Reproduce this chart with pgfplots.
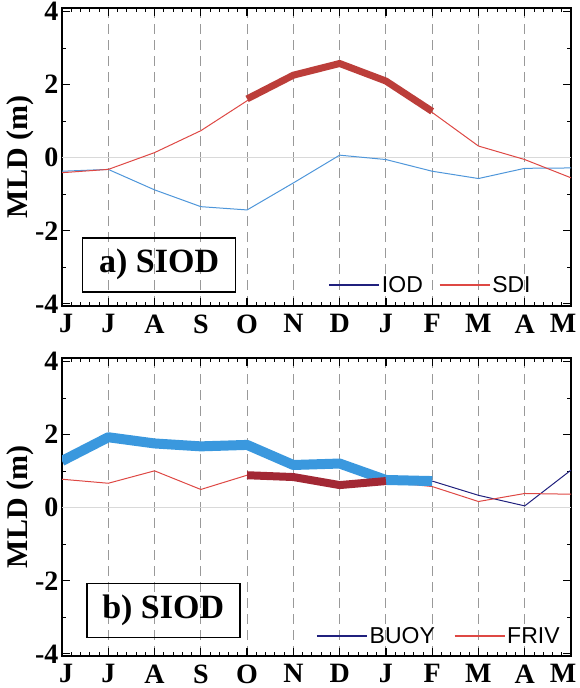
\documentclass[border=0pt]{standalone}
\usepackage{pgfplots}
\pgfplotsset{compat=1.18}
\usepackage{fontspec}
\setmainfont{Liberation Serif}
\newfontfamily\legfont{Liberation Sans}

\definecolor{sdired}{RGB}{222,72,68}
\definecolor{thickred}{RGB}{188,62,58}
\definecolor{darkred}{RGB}{162,40,52}
\definecolor{iodblue}{RGB}{78,150,218}
\definecolor{buoyblue}{RGB}{58,152,222}
\definecolor{navy}{RGB}{32,32,125}

\pgfplotsset{
  siod/.style={
    scale only axis,
    width=509pt, height=298pt,
    xmin=0, xmax=11,
    ymin=-4.06, ymax=4.1,
    xtick={0,...,11},
    xticklabels={\hspace*{8pt}J,J,A,S,O,N,D,J,F,M,A,M\hspace*{16pt}},
    ytick={-4,-2,0,2,4},
    yticklabels={-4,-2,0,2,\raisebox{-3pt}{4}},
    minor x tick num=4,
    minor y tick num=1,
    tick align=inside,
    major tick length=8pt,
    minor tick length=4pt,
    tick style={black, line width=1.2pt},
    minor tick style={black, line width=0.8pt},
    axis line style={line width=1.6pt},
    xmajorgrids,
    major grid style={gray!80, line width=0.9pt, dash pattern=on 10pt off 6pt},
    tick label style={font=\fontsize{28}{28}\selectfont\bfseries},
    xticklabel style={yshift=-5pt},
    ylabel={MLD (m)},
    ylabel style={font=\fontsize{30}{30}\selectfont\bfseries, yshift=-6pt},
    legend columns=2,
    legend style={draw=none, fill=none, font=\legfont\fontsize{23}{23}\selectfont,
      anchor=east, inner sep=0pt,
      /tikz/every even column/.append style={column sep=14pt}},
    legend image code/.code={\draw[#1] (0pt,0pt) -- (50pt,0pt);},
    every axis plot/.append style={line join=round},
  }
}

\begin{document}
\begin{tikzpicture}
\path[use as bounding box] (0pt,0pt) rectangle (579pt,688pt);

% panel a
\begin{axis}[siod, at={(62pt,382pt)}, anchor=south west,
  legend style={at={(rel axis cs:0.925,0.07)}}]
\addlegendimage{navy, line width=1.4pt}
\addlegendentry{IOD}
\addlegendimage{sdired, line width=1.4pt}
\addlegendentry{SDI}
\addplot[gray!30, line width=0.9pt, forget plot] coordinates {(0,0) (11,0)};
\addplot[iodblue, line width=1pt, forget plot] coordinates {
  (0,-0.37) (1,-0.32) (2,-0.88) (3,-1.34) (4,-1.43) (5,-0.69)
  (6,0.07) (7,-0.05) (8,-0.37) (9,-0.57) (10,-0.29) (11,-0.28)};
\addplot[sdired, line width=1pt, forget plot] coordinates {
  (0,-0.41) (1,-0.32) (2,0.14) (3,0.74) (4,1.56) (5,2.21)
  (6,2.53) (7,2.07) (8,1.24) (9,0.32) (10,-0.05) (11,-0.55)};
\addplot[thickred, line width=7pt, forget plot] coordinates {
  (4,1.61) (5,2.26) (6,2.58) (7,2.1) (8,1.27)};
\node[draw, line width=1.6pt, anchor=south west, minimum width=153pt,
  minimum height=54pt, inner sep=2pt, font=\fontsize{34}{34}\selectfont\bfseries]
  at (rel axis cs:0.039,0.045) {a) SIOD};
\end{axis}

% panel b
\begin{axis}[siod, at={(62pt,32pt)}, anchor=south west,
  legend style={at={(rel axis cs:0.982,0.067)},
    /tikz/every even column/.append style={column sep=17pt}}]
\addlegendimage{navy, line width=1.4pt}
\addlegendentry{BUOY}
\addlegendimage{sdired, line width=1.4pt}
\addlegendentry{FRIV}
\addplot[gray!30, line width=0.9pt, forget plot] coordinates {(0,0) (11,0)};
\addplot[navy, line width=1pt, forget plot] coordinates {
  (8,0.73) (9,0.34) (10,0.05) (11,1.03)};
\addplot[sdired, line width=1pt, forget plot] coordinates {
  (0,0.78) (1,0.67) (2,1.01) (3,0.5) (4,0.89) (5,0.85)
  (6,0.62) (7,0.71) (8,0.58) (9,0.17) (10,0.39) (11,0.37)};
\addplot[buoyblue, line width=10pt, forget plot] coordinates {
  (0,1.28) (1,1.93) (2,1.76) (3,1.68) (4,1.72) (5,1.17)
  (6,1.21) (7,0.76) (8,0.73)};
\addplot[darkred, line width=8pt, forget plot] coordinates {
  (4,0.89) (5,0.84) (6,0.62) (7,0.73)};
\node[draw, line width=1.6pt, anchor=south west, minimum width=153pt,
  minimum height=54pt, inner sep=2pt, font=\fontsize{34}{34}\selectfont\bfseries]
  at (rel axis cs:0.047,0.06) {b) SIOD};
\end{axis}
\end{tikzpicture}
\end{document}
